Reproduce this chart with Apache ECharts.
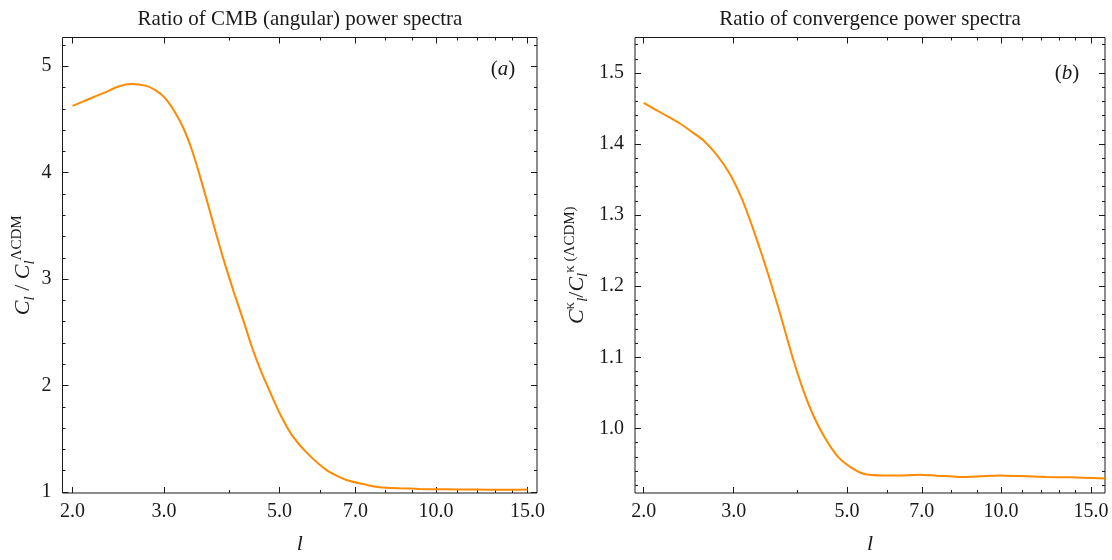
<!DOCTYPE html>
<html>
<head>
<meta charset="utf-8">
<script src="https://cdn.jsdelivr.net/npm/echarts@6/dist/echarts.min.js"></script>
<style>html,body{margin:0;padding:0;background:#fff}#c{width:1112px;height:560px}</style>
</head>
<body>
<div id="c"></div>
<script>
// ---- data ----
const titleA = 'Ratio of CMB (angular) power spectra';
const titleB = 'Ratio of convergence power spectra';
const xMajorTicks = [2, 3, 5, 7, 10, 15];
const xMinorTicks = [4, 6, 8, 9, 11, 12, 13, 14];
const yTicksA = [1, 2, 3, 4, 5];
const yTicksB = [1.0, 1.1, 1.2, 1.3, 1.4, 1.5];

const lA = [2.0, 2.14, 2.31, 2.45, 2.60, 2.76, 2.88, 3.01, 3.15, 3.27, 3.39, 3.49, 3.62, 3.76, 3.90, 4.08, 4.26, 4.42, 4.59, 4.80, 5.01, 5.28, 5.64, 6.17, 6.73, 7.36, 7.80, 8.5, 9.3, 10.0, 11.0, 12.0, 13.0, 14.0, 15.0];
const cmbRatio = [4.627, 4.687, 4.755, 4.81, 4.833, 4.818, 4.778, 4.703, 4.566, 4.415, 4.218, 4.02, 3.75, 3.46, 3.19, 2.885, 2.612, 2.369, 2.155, 1.935, 1.735, 1.536, 1.369, 1.203, 1.112, 1.066, 1.045, 1.035, 1.028, 1.025, 1.024, 1.022, 1.02, 1.02, 1.022];

const lB = [2.0, 2.18, 2.354, 2.48, 2.615, 2.778, 2.95, 3.11, 3.25, 3.40, 3.505, 3.655, 3.78, 3.92, 4.10, 4.29, 4.52, 4.80, 5.06, 5.38, 5.89, 6.44, 6.94, 7.48, 7.95, 8.32, 9.10, 9.95, 10.9, 12.28, 13.65, 15.16, 15.98];
const kappaRatio = [1.458, 1.4427, 1.429, 1.4177, 1.4055, 1.385, 1.3577, 1.3236, 1.2872, 1.246, 1.2165, 1.1735, 1.137, 1.0975, 1.0545, 1.0188, 0.987, 0.9598, 0.946, 0.9362, 0.9338, 0.9338, 0.9348, 0.9334, 0.9325, 0.9315, 0.9325, 0.9338, 0.9329, 0.9315, 0.931, 0.930, 0.9293];

// ---- styling / layout ----
const FONT = '"Liberation Serif", "Times New Roman", serif';
const INK = '#1a1a1a';
const ORANGE = '#ff8a00';

function minorList(lo, hi, step, major) {
  const out = [];
  const n = Math.round((hi - lo) / step);
  for (let i = 0; i <= n; i++) {
    const v = +(lo + i * step).toFixed(4);
    if (Math.abs(v / major - Math.round(v / major)) > 1e-6) out.push(v);
  }
  return out;
}
const yMinorA = minorList(1.0, 5.2, 0.2, 1);
const yMinorB = minorList(0.92, 1.54, 0.02, 0.1);

const lg = v => Math.log10(v);

function xAxesFor(gi, lmin, lmax) {
  const base = {
    type: 'value', gridIndex: gi, min: lg(lmin), max: lg(lmax),
    splitLine: { show: false }, axisLine: { show: false }
  };
  const tick = (vals, len) => ({ show: true, inside: true, length: len, customValues: vals.map(lg), lineStyle: { color: INK, width: 1 } });
  return [
    Object.assign({}, base, {
      position: 'bottom',
      axisTick: tick(xMajorTicks, 6),
      axisLabel: { show: true, customValues: xMajorTicks.map(lg), formatter: v => Math.pow(10, v).toFixed(1), margin: 9, fontFamily: FONT, fontSize: 20, color: INK },
      name: 'l', nameLocation: 'middle', nameGap: 40,
      nameTextStyle: { fontFamily: FONT, fontStyle: 'italic', fontSize: 22, color: INK }
    }),
    Object.assign({}, base, { position: 'bottom', axisTick: tick(xMinorTicks, 3), axisLabel: { show: false } }),
    Object.assign({}, base, { position: 'top', axisTick: tick(xMajorTicks, 6), axisLabel: { show: false } }),
    Object.assign({}, base, { position: 'top', axisTick: tick(xMinorTicks, 3), axisLabel: { show: false } })
  ];
}

function yAxesFor(gi, ymin, ymax, majors, minors, fmt, name, nameGap) {
  const base = {
    type: 'value', gridIndex: gi, min: ymin, max: ymax,
    splitLine: { show: false }, axisLine: { show: false }
  };
  const tick = (vals, len) => ({ show: true, inside: true, length: len, customValues: vals, lineStyle: { color: INK, width: 1 } });
  return [
    Object.assign({}, base, {
      position: 'left',
      axisTick: tick(majors, 6),
      axisLabel: { show: true, customValues: majors, formatter: fmt, margin: 11, fontFamily: FONT, fontSize: 20, color: INK },
      name: name, nameLocation: 'middle', nameGap: nameGap, nameRotate: 90,
      nameTextStyle: {
        fontFamily: FONT, color: INK,
        rich: {
          c: { fontFamily: FONT, fontSize: 22, fontStyle: 'italic', lineHeight: 28, verticalAlign: 'middle', color: INK },
          u: { fontFamily: FONT, fontSize: 22, lineHeight: 28, verticalAlign: 'middle', color: INK },
          s: { fontFamily: FONT, fontSize: 15, fontStyle: 'italic', lineHeight: 14, verticalAlign: 'bottom', color: INK },
          p: { fontFamily: FONT, fontSize: 15, lineHeight: 14, verticalAlign: 'top', color: INK }
        }
      }
    }),
    Object.assign({}, base, { position: 'left', axisTick: tick(minors, 3), axisLabel: { show: false } }),
    Object.assign({}, base, { position: 'right', axisTick: tick(majors, 6), axisLabel: { show: false } }),
    Object.assign({}, base, { position: 'right', axisTick: tick(minors, 3), axisLabel: { show: false } })
  ];
}

const chart = echarts.init(document.getElementById('c'), null, { renderer: 'canvas' });

const nameA = '{c|C}{s|l}{u| / }{c|C}{s|l}{p|ΛCDM}';
const nameB = '{c|C}{p|κ}{s|l}{u|/}{c|C}{s|l}{p|κ (ΛCDM)}';

const option = {
  backgroundColor: '#fff',
  animation: false,
  grid: [
    { left: 62.5, right: 575, top: 37.5, bottom: 52, show: true, borderColor: INK, borderWidth: 1, backgroundColor: 'transparent' },
    { left: 635, right: 7, top: 37.5, bottom: 52.7, show: true, borderColor: INK, borderWidth: 1, backgroundColor: 'transparent' }
  ],
  xAxis: [].concat(xAxesFor(0, 1.913, 15.64), xAxesFor(1, 1.923, 15.98)),
  yAxis: [].concat(
    yAxesFor(0, 0.99, 5.27, yTicksA, yMinorA, v => String(Math.round(v)), nameA, 22),
    yAxesFor(1, 0.909, 1.55, yTicksB, yMinorB, v => v.toFixed(1), nameB, 44)
  ),
  series: [
    {
      type: 'line', xAxisIndex: 0, yAxisIndex: 0, showSymbol: false, symbol: 'none',
      smooth: 0.2,
      lineStyle: { color: ORANGE, width: 2 },
      data: lA.map((l, i) => [lg(l), cmbRatio[i]])
    },
    {
      type: 'line', xAxisIndex: 4, yAxisIndex: 4, showSymbol: false, symbol: 'none',
      smooth: 0.2,
      lineStyle: { color: ORANGE, width: 2 },
      data: lB.map((l, i) => [lg(l), kappaRatio[i]])
    }
  ],
  graphic: [
    { type: 'text', x: 300, y: 19, style: { text: titleA, font: '21px ' + FONT, fill: INK, textAlign: 'center', textVerticalAlign: 'middle' } },
    { type: 'text', x: 870, y: 19, style: { text: titleB, font: '21px ' + FONT, fill: INK, textAlign: 'center', textVerticalAlign: 'middle' } },
    { type: 'text', x: 503, y: 69, style: { text: '{n|(}{i|a}{n|)}', textAlign: 'center', textVerticalAlign: 'middle',
        rich: { n: { fontFamily: FONT, fontSize: 21, fill: INK, color: INK }, i: { fontFamily: FONT, fontSize: 21, fontStyle: 'italic', fill: INK, color: INK } } } },
    { type: 'text', x: 1067, y: 73, style: { text: '{n|(}{i|b}{n|)}', textAlign: 'center', textVerticalAlign: 'middle',
        rich: { n: { fontFamily: FONT, fontSize: 21, fill: INK, color: INK }, i: { fontFamily: FONT, fontSize: 21, fontStyle: 'italic', fill: INK, color: INK } } } }
  ]
};
chart.setOption(option);
</script>
</body>
</html>
